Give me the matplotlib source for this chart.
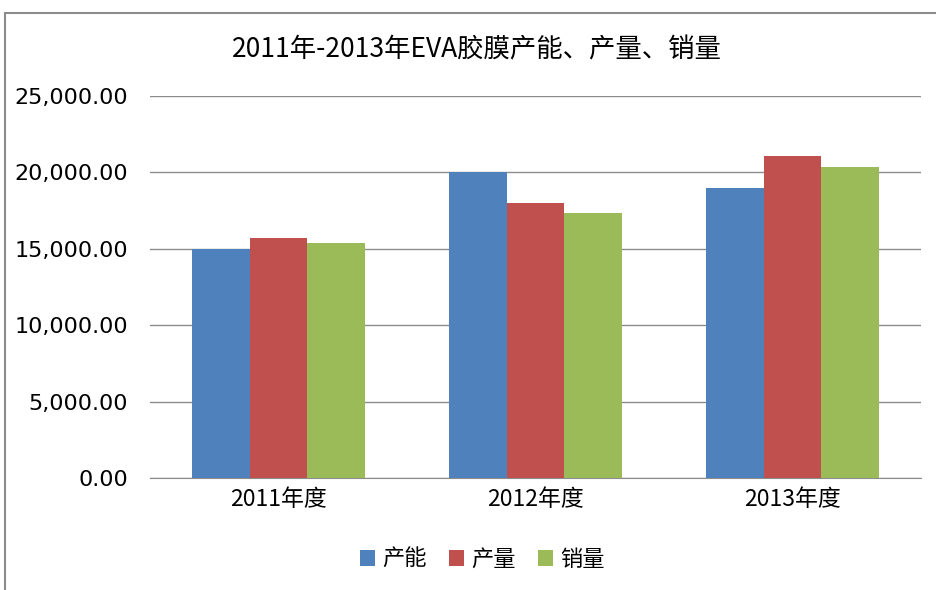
import matplotlib.pyplot as plt
import numpy as np
from matplotlib.patches import Rectangle

plt.rcParams['font.family'] = ['Noto Sans CJK SC', 'DejaVu Sans']

# Data
categories = ["2011年度", "2012年度", "2013年度"]
capacity = [15000, 20000, 18990]    # 产能
output = [15680, 17970, 21090]      # 产量
sales = [15390, 17360, 20330]       # 销量
series_names = ["产能", "产量", "销量"]
colors = ["#4f81bd", "#c0504d", "#9bbb59"]

fig = plt.figure(figsize=(9.36, 5.9), dpi=100)
ax = fig.add_axes([0.1603, 0.1898, 0.8237, 0.6475])

# outer chart frame (cut off at right and bottom)
fig.patches.append(Rectangle((5 / 936, -0.05), 1.2, (590 - 13) / 590 + 0.05,
                             transform=fig.transFigure, fill=False,
                             edgecolor="#8c8c8c", linewidth=1.5))

x = np.arange(len(categories))
w = 0.225
for i, (vals, name) in enumerate(zip([capacity, output, sales], series_names)):
    ax.bar(x + (i - 1) * w, vals, w, color=colors[i], label=name, zorder=3)

ax.set_xlim(-0.5, 2.5)
ax.set_ylim(0, 25000)
ax.set_yticks(np.arange(0, 25001, 5000))
ax.set_yticklabels([f"{v:,.2f}" for v in np.arange(0, 25001, 5000)],
                   fontsize=16, family=['DejaVu Sans'])
ax.set_xticks(x)
ax.set_xticklabels(categories, fontsize=16.5)
ax.tick_params(axis='x', length=0, pad=7)
ax.tick_params(axis='y', length=0, pad=16)
ax.yaxis.grid(True, color="#8c8c8c", linewidth=1, zorder=0)
for s in ["top", "right"]:
    ax.spines[s].set_visible(False)
ax.spines["left"].set_visible(False)
ax.spines["bottom"].set_color("#8c8c8c")

fig.text(0.509, 0.915, "2011年-2013年EVA胶膜产能、产量、销量",
         ha="center", va="center", fontsize=19)

fig.legend(loc="center", bbox_to_anchor=(0.515, 0.052), ncol=3, frameon=False,
           fontsize=16, handlelength=0.7, handleheight=0.7,
           handletextpad=0.3, columnspacing=1.0)

fig.savefig("out.png", dpi=100)
